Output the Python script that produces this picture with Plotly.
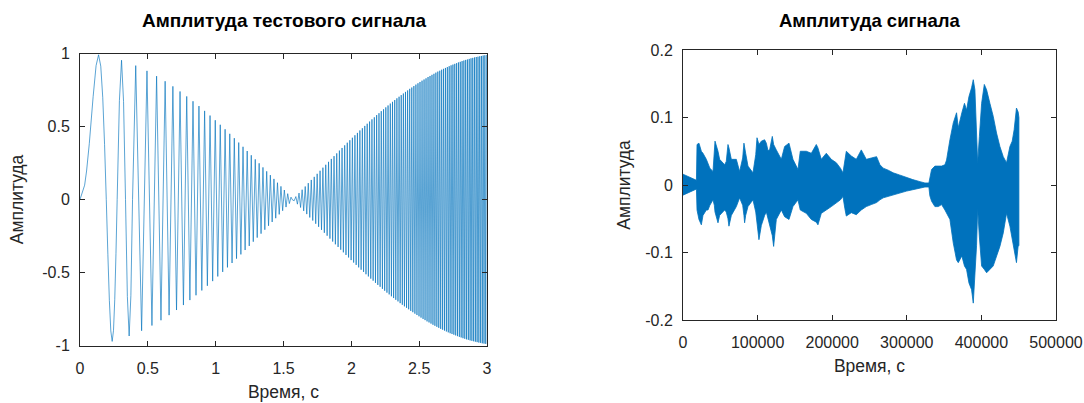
import plotly.graph_objects as go

# ---------------- Left chart: test signal ----------------
# first cycles, sampled finely
chirp_t_start = [0.0, 0.0342, 0.0484, 0.0685, 0.0968, 0.1186, 0.1369, 0.1531, 0.1677, 0.1811,
                 0.1937, 0.2054, 0.2165, 0.2271, 0.2372, 0.2469, 0.2562, 0.2652, 0.2739,
                 0.2905, 0.3062, 0.3211, 0.3354, 0.3491, 0.3623, 0.3750, 0.3873]
chirp_y_start = [0.0, 0.098, 0.195, 0.382, 0.704, 0.917, 0.991, 0.913, 0.697, 0.376,
                 0.0, -0.375, -0.691, -0.900, -0.972, -0.896, -0.684, -0.369, 0.0,
                 0.678, 0.954, 0.671, 0.0, -0.665, -0.935, -0.658, 0.0]
# successive peaks / troughs after that
chirp_t_peaks = [
    0.4108, 0.4542, 0.4937, 0.5303, 0.5646, 0.5969, 0.6275, 0.6567, 0.6847, 0.7115,
    0.7374, 0.7624, 0.7866, 0.8101, 0.8329, 0.8551, 0.8768, 0.8979, 0.9186, 0.9388,
    0.9585, 0.9779, 0.9969, 1.0155, 1.0338, 1.0518, 1.0695, 1.0869, 1.1040, 1.1208,
    1.1374, 1.1538, 1.1699, 1.1859, 1.2016, 1.2171, 1.2324, 1.2475, 1.2624, 1.2772,
    1.2918, 1.3062, 1.3205, 1.3346, 1.3486, 1.3624, 1.3761, 1.3897, 1.4031, 1.4164,
    1.4296, 1.4427, 1.4556, 1.4684, 1.4811, 1.4937, 1.5062, 1.5186, 1.5309, 1.5431,
    1.5552, 1.5672, 1.5792, 1.5910, 1.6027, 1.6144, 1.6260, 1.6375, 1.6489, 1.6602,
    1.6715, 1.6826, 1.6937, 1.7048, 1.7157, 1.7266, 1.7375, 1.7482, 1.7589, 1.7695,
    1.7801, 1.7906, 1.8010, 1.8114, 1.8217, 1.8320, 1.8422, 1.8524, 1.8625, 1.8725,
    1.8825, 1.8924, 1.9023, 1.9121, 1.9219, 1.9316, 1.9413, 1.9510, 1.9606, 1.9701,
    1.9796, 1.9890, 1.9984, 2.0078, 2.0171, 2.0264, 2.0356, 2.0448, 2.0540, 2.0631,
    2.0721, 2.0812, 2.0902, 2.0991, 2.1080, 2.1169, 2.1257, 2.1345, 2.1433, 2.1520,
    2.1607, 2.1694, 2.1780, 2.1866, 2.1952, 2.2037, 2.2122, 2.2206, 2.2291, 2.2375,
    2.2458, 2.2542, 2.2625, 2.2707, 2.2790, 2.2872, 2.2954, 2.3035, 2.3117, 2.3198,
    2.3278, 2.3359, 2.3439, 2.3519, 2.3598, 2.3678, 2.3757, 2.3835, 2.3914, 2.3992,
    2.4070, 2.4148, 2.4226, 2.4303, 2.4380, 2.4457, 2.4533, 2.4609, 2.4686, 2.4761,
    2.4837, 2.4912, 2.4988, 2.5062, 2.5137, 2.5212, 2.5286, 2.5360, 2.5434, 2.5507,
    2.5581, 2.5654, 2.5727, 2.5800, 2.5872, 2.5945, 2.6017, 2.6089, 2.6161, 2.6232,
    2.6304, 2.6375, 2.6446, 2.6517, 2.6587, 2.6658, 2.6728, 2.6798, 2.6868, 2.6937,
    2.7007, 2.7076, 2.7145, 2.7214, 2.7283, 2.7352, 2.7420, 2.7489, 2.7557, 2.7625,
    2.7693, 2.7760, 2.7828, 2.7895, 2.7962, 2.8029, 2.8096, 2.8163, 2.8229, 2.8295,
    2.8362, 2.8428, 2.8493, 2.8559, 2.8625, 2.8690, 2.8755, 2.8821, 2.8886, 2.8950,
    2.9015, 2.9080, 2.9144, 2.9208, 2.9272, 2.9336, 2.9400, 2.9464, 2.9528, 2.9591,
    2.9654, 2.9717, 2.9781, 2.9843, 2.9906, 2.9969]
chirp_y_peaks = [
    0.917, -0.899, 0.881, -0.863, 0.845, -0.827, 0.810, -0.792, 0.775, -0.757,
    0.740, -0.723, 0.706, -0.689, 0.673, -0.656, 0.640, -0.623, 0.607, -0.591,
    0.575, -0.559, 0.543, -0.527, 0.512, -0.496, 0.481, -0.465, 0.450, -0.435,
    0.420, -0.405, 0.390, -0.376, 0.361, -0.346, 0.332, -0.318, 0.303, -0.289,
    0.275, -0.261, 0.248, -0.234, 0.220, -0.207, 0.193, -0.180, 0.167, -0.154,
    0.141, -0.128, 0.115, -0.102, 0.090, -0.077, 0.065, -0.052, 0.040, -0.028,
    0.016, -0.004, -0.008, 0.020, -0.032, 0.044, -0.055, 0.067, -0.078, 0.089,
    -0.100, 0.112, -0.123, 0.134, -0.144, 0.155, -0.166, 0.176, -0.187, 0.197,
    -0.208, 0.218, -0.228, 0.238, -0.248, 0.258, -0.268, 0.278, -0.288, 0.297,
    -0.307, 0.316, -0.325, 0.335, -0.344, 0.353, -0.362, 0.371, -0.380, 0.389,
    -0.397, 0.406, -0.415, 0.423, -0.432, 0.440, -0.448, 0.456, -0.465, 0.473,
    -0.481, 0.488, -0.496, 0.504, -0.512, 0.519, -0.527, 0.534, -0.542, 0.549,
    -0.556, 0.563, -0.571, 0.578, -0.585, 0.591, -0.598, 0.605, -0.612, 0.618,
    -0.625, 0.631, -0.638, 0.644, -0.650, 0.657, -0.663, 0.669, -0.675, 0.681,
    -0.687, 0.693, -0.698, 0.704, -0.710, 0.715, -0.721, 0.726, -0.732, 0.737,
    -0.742, 0.747, -0.752, 0.758, -0.763, 0.767, -0.772, 0.777, -0.782, 0.787,
    -0.791, 0.796, -0.800, 0.805, -0.809, 0.814, -0.818, 0.822, -0.826, 0.830,
    -0.835, 0.839, -0.842, 0.846, -0.850, 0.854, -0.858, 0.861, -0.865, 0.869,
    -0.872, 0.876, -0.879, 0.882, -0.886, 0.889, -0.892, 0.895, -0.898, 0.901,
    -0.904, 0.907, -0.910, 0.913, -0.916, 0.919, -0.921, 0.924, -0.926, 0.929,
    -0.931, 0.934, -0.936, 0.939, -0.941, 0.943, -0.945, 0.948, -0.950, 0.952,
    -0.954, 0.956, -0.958, 0.959, -0.961, 0.963, -0.965, 0.967, -0.968, 0.970,
    -0.971, 0.973, -0.974, 0.976, -0.977, 0.978, -0.980, 0.981, -0.982, 0.983,
    -0.985, 0.986, -0.987, 0.988, -0.989, 0.990]

audio_x = [
    0, 4000, 8000, 12000, 16000, 18000, 18800, 21400, 24600, 26800,
    31300, 33500, 36000, 40200, 42000, 42900, 46900, 49100, 55800, 58000,
    60300, 61600, 64800, 71500, 75900, 80000, 81700, 82600, 84000, 87100,
    93800, 97500, 99200, 101800, 105000, 109400, 111700, 113900, 116100, 119700,
    121500, 125100, 131800, 136200, 142100, 147400, 154100, 157200, 165300, 172000,
    178700, 180900, 185400, 192100, 198800, 205500, 211000, 214400, 217000, 218900,
    225600, 232300, 239000, 245700, 252400, 259500, 264000, 268400, 275000, 281800,
    290000, 299700, 308000, 317600, 324300, 329600, 330900, 333200, 337700, 342200,
    346600, 351100, 353300, 357800, 362300, 366700, 369000, 373800, 377300, 380100,
    383300, 386800, 389100, 391300, 393500, 395000, 397300, 400300, 403900, 407000,
    411400, 415800, 420300, 424800, 429300, 433700, 438200, 441300, 443900, 447000,
    449300, 450300]
audio_upper = [
    0.016, 0.014, 0.012, 0.010, 0.008, 0.007, 0.060, 0.062, 0.050, 0.047,
    0.038, 0.033, 0.025, 0.020, 0.050, 0.065, 0.050, 0.038, 0.030, 0.035,
    0.060, 0.055, 0.038, 0.038, 0.020, 0.040, 0.062, 0.055, 0.047, 0.028,
    0.018, 0.045, 0.070, 0.060, 0.065, 0.067, 0.062, 0.051, 0.052, 0.072,
    0.060, 0.052, 0.038, 0.057, 0.062, 0.038, 0.023, 0.050, 0.050, 0.047,
    0.060, 0.055, 0.038, 0.047, 0.038, 0.033, 0.025, 0.018, 0.040, 0.050,
    0.043, 0.038, 0.052, 0.038, 0.040, 0.042, 0.030, 0.025, 0.022, 0.018,
    0.015, 0.011, 0.008, 0.005, 0.003, 0.003, 0.013, 0.023, 0.028, 0.028,
    0.028, 0.030, 0.037, 0.067, 0.092, 0.107, 0.085, 0.107, 0.121, 0.111,
    0.131, 0.144, 0.156, 0.141, 0.090, 0.033, 0.072, 0.121, 0.149, 0.141,
    0.121, 0.102, 0.077, 0.057, 0.042, 0.033, 0.057, 0.065, 0.082, 0.114,
    0.108, 0.100]
audio_lower = [
    -0.015, -0.014, -0.011, -0.009, -0.007, -0.006, -0.037, -0.051, -0.059, -0.045,
    -0.037, -0.037, -0.030, -0.022, -0.030, -0.040, -0.056, -0.045, -0.037, -0.040,
    -0.050, -0.061, -0.045, -0.032, -0.019, -0.030, -0.045, -0.056, -0.045, -0.032,
    -0.022, -0.040, -0.060, -0.081, -0.060, -0.045, -0.040, -0.051, -0.060, -0.075,
    -0.091, -0.051, -0.037, -0.047, -0.051, -0.032, -0.022, -0.037, -0.042, -0.051,
    -0.055, -0.059, -0.042, -0.037, -0.032, -0.027, -0.022, -0.017, -0.035, -0.046,
    -0.041, -0.044, -0.037, -0.032, -0.029, -0.026, -0.022, -0.019, -0.016, -0.014,
    -0.012, -0.009, -0.007, -0.005, -0.003, -0.003, -0.016, -0.024, -0.032, -0.032,
    -0.029, -0.037, -0.040, -0.051, -0.086, -0.111, -0.115, -0.105, -0.120, -0.125,
    -0.145, -0.155, -0.175, -0.145, -0.090, -0.036, -0.077, -0.120, -0.125, -0.130,
    -0.125, -0.120, -0.106, -0.091, -0.071, -0.042, -0.061, -0.076, -0.096, -0.115,
    -0.090, -0.090]

# ---------------- Ticks and texts ----------------
left_xticks = [0, 0.5, 1, 1.5, 2, 2.5, 3]
left_xticklabels = ["0", "0.5", "1", "1.5", "2", "2.5", "3"]
left_yticks = [-1, -0.5, 0, 0.5, 1]
left_yticklabels = ["-1", "-0.5", "0", "0.5", "1"]
right_xticks = [0, 100000, 200000, 300000, 400000, 500000]
right_xticklabels = ["0", "100000", "200000", "300000", "400000", "500000"]
right_yticks = [-0.2, -0.1, 0, 0.1, 0.2]
right_yticklabels = ["-0.2", "-0.1", "0", "0.1", "0.2"]

left_title = "Амплитуда тестового сигнала"
right_title = "Амплитуда сигнала"
x_label = "Время, с"
y_label = "Амплитуда"

BLUE = "#0072BD"
AX = "#262626"
FONT = "Liberation Sans, Arial, Helvetica, sans-serif"
W, H = 1084, 403

fig = go.Figure()
fig.add_trace(go.Scatter(
    x=chirp_t_start + chirp_t_peaks, y=chirp_y_start + chirp_y_peaks,
    mode="lines", line=dict(color=BLUE, width=0.65, simplify=False),
    xaxis="x", yaxis="y", showlegend=False, hoverinfo="skip"))
fig.add_trace(go.Scatter(
    x=audio_x + audio_x[::-1], y=audio_upper + audio_lower[::-1],
    mode="lines", fill="toself", fillcolor=BLUE,
    line=dict(color=BLUE, width=0.8),
    xaxis="x2", yaxis="y2", showlegend=False, hoverinfo="skip"))

def ax_common(**kw):
    d = dict(showline=True, linecolor=AX, linewidth=1, mirror="ticks",
             ticks="inside", ticklen=5, tickcolor=AX, tickwidth=1,
             showgrid=False, zeroline=False, automargin=False,
             tickfont=dict(family=FONT, size=16, color=AX))
    d.update(kw)
    return d

L_DOM_X = [80 / W, 487 / W]
L_DOM_Y = [(H - 345.5) / H, (H - 53.5) / H]
R_DOM_X = [683 / W, 1056 / W]
R_DOM_Y = [(H - 320) / H, (H - 50) / H]

title_font = dict(family=FONT, size=17.5, color=AX)

fig.update_layout(
    width=W, height=H, margin=dict(l=0, r=0, t=0, b=0, autoexpand=False),
    paper_bgcolor="white", plot_bgcolor="white", showlegend=False,
    font=dict(family=FONT, color=AX),
    xaxis=ax_common(domain=L_DOM_X, range=[0, 3], anchor="y",
                    tickvals=left_xticks, ticktext=left_xticklabels,
                    ticklabelstandoff=8,
                    title=dict(text=x_label, font=title_font, standoff=10)),
    yaxis=ax_common(domain=L_DOM_Y, range=[-1, 1], anchor="x",
                    tickvals=left_yticks, ticktext=left_yticklabels,
                    ticklabelstandoff=6,
                    title=dict(text=y_label, font=title_font, standoff=14)),
    xaxis2=ax_common(domain=R_DOM_X, range=[0, 500000], anchor="y2",
                     tickvals=right_xticks, ticktext=right_xticklabels,
                     ticklabelstandoff=8,
                     title=dict(text=x_label, font=title_font, standoff=9)),
    yaxis2=ax_common(domain=R_DOM_Y, range=[-0.2, 0.2], anchor="x2",
                     tickvals=right_yticks, ticktext=right_yticklabels,
                     ticklabelstandoff=6,
                     title=dict(text=y_label, font=title_font, standoff=10)),
    annotations=[
        dict(text="<b>" + left_title + "</b>", x=(L_DOM_X[0] + L_DOM_X[1]) / 2, y=(H - 20) / H,
             xref="paper", yref="paper", xanchor="center", yanchor="middle", showarrow=False,
             font=dict(family=FONT, size=19, color="black")),
        dict(text="<b>" + right_title + "</b>", x=(R_DOM_X[0] + R_DOM_X[1]) / 2, y=(H - 20) / H,
             xref="paper", yref="paper", xanchor="center", yanchor="middle", showarrow=False,
             font=dict(family=FONT, size=18.5, color="black")),
    ],
)

fig.write_html("out.html")
